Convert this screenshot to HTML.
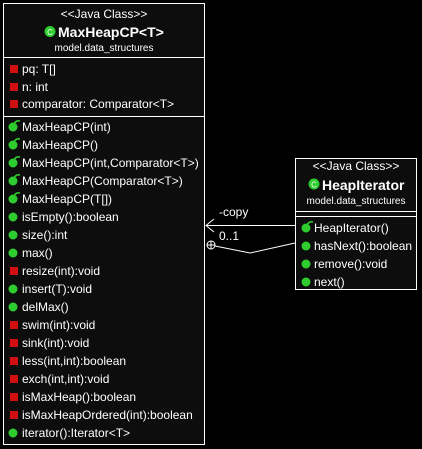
<!DOCTYPE html>
<html><head><style>
html,body{margin:0;padding:0;background:#000;}
svg{display:block;}
text{font-family:"Liberation Sans",Arial,sans-serif;fill:#fff;}
</style></head><body>
<svg width="422" height="449" viewBox="0 0 422 449">
<rect width="422" height="449" fill="#000"/>
<defs>
<g id="red"><rect x="-4" y="-4" width="8" height="8" fill="#d01010"/></g>
<g id="grn"><circle r="4.5" fill="#2ecc2e"/></g>
<g id="ctor"><circle r="4.5" fill="#2ecc2e"/><path d="M1,-3 Q3,-7 7,-6" stroke="#2ecc2e" stroke-width="1.6" fill="none"/></g>
</defs>
<!-- Main class -->
<rect x="3.5" y="3.5" width="201" height="441" fill="#0d0d0d" stroke="#fff" stroke-width="1"/>
<line x1="3.5" y1="57.5" x2="204.5" y2="57.5" stroke="#fff"/>
<line x1="3.5" y1="116.5" x2="204.5" y2="116.5" stroke="#fff"/>
<text x="104" y="18" font-size="12" text-anchor="middle">&lt;&lt;Java Class&gt;&gt;</text>
<circle cx="50" cy="31.5" r="5.5" fill="#2ecc2e"/><text x="50" y="35" font-size="8" text-anchor="middle">C</text>
<text x="58" y="37" font-size="14" font-weight="bold">MaxHeapCP&lt;T&gt;</text>
<text x="104" y="51" font-size="10" text-anchor="middle">model.data_structures</text>
<g font-size="12">
<use href="#red" x="14" y="69"/><text x="22" y="73">pq: T[]</text>
<use href="#red" x="14" y="87"/><text x="22" y="91">n: int</text>
<use href="#red" x="14" y="104"/><text x="22" y="108">comparator: Comparator&lt;T&gt;</text>

<use href="#ctor" x="13" y="127"/><text x="22" y="131">MaxHeapCP(int)</text>
<use href="#ctor" x="13" y="145"/><text x="22" y="149">MaxHeapCP()</text>
<use href="#ctor" x="13" y="163"/><text x="22" y="167">MaxHeapCP(int,Comparator&lt;T&gt;)</text>
<use href="#ctor" x="13" y="181"/><text x="22" y="185">MaxHeapCP(Comparator&lt;T&gt;)</text>
<use href="#ctor" x="13" y="199"/><text x="22" y="203">MaxHeapCP(T[])</text>
<use href="#grn" x="13" y="217"/><text x="22" y="221">isEmpty():boolean</text>
<use href="#grn" x="13" y="235"/><text x="22" y="239">size():int</text>
<use href="#grn" x="13" y="253"/><text x="22" y="257">max()</text>
<use href="#red" x="14" y="271"/><text x="22" y="275">resize(int):void</text>
<use href="#grn" x="13" y="289"/><text x="22" y="293">insert(T):void</text>
<use href="#grn" x="13" y="307"/><text x="22" y="311">delMax()</text>
<use href="#red" x="14" y="325"/><text x="22" y="329">swim(int):void</text>
<use href="#red" x="14" y="343"/><text x="22" y="347">sink(int):void</text>
<use href="#red" x="14" y="361"/><text x="22" y="365">less(int,int):boolean</text>
<use href="#red" x="14" y="379"/><text x="22" y="383">exch(int,int):void</text>
<use href="#red" x="14" y="397"/><text x="22" y="401">isMaxHeap():boolean</text>
<use href="#red" x="14" y="415"/><text x="22" y="419">isMaxHeapOrdered(int):boolean</text>
<use href="#grn" x="13" y="433"/><text x="22" y="437">iterator():Iterator&lt;T&gt;</text>
</g>
<!-- HeapIterator -->
<rect x="295.5" y="158.5" width="121" height="131" fill="#0d0d0d" stroke="#fff"/>
<line x1="295.5" y1="211.5" x2="416.5" y2="211.5" stroke="#fff"/>
<line x1="295.5" y1="216.5" x2="416.5" y2="216.5" stroke="#fff"/>
<text x="356" y="170" font-size="12" text-anchor="middle">&lt;&lt;Java Class&gt;&gt;</text>
<circle cx="314" cy="184" r="5.5" fill="#2ecc2e"/><text x="314" y="187.5" font-size="8" text-anchor="middle">C</text>
<text x="322" y="190" font-size="14" font-weight="bold">HeapIterator</text>
<text x="356" y="204" font-size="10" text-anchor="middle">model.data_structures</text>
<g font-size="12">
<use href="#ctor" x="306" y="228"/><text x="314" y="232">HeapIterator()</text>
<use href="#grn" x="306" y="246"/><text x="314" y="250">hasNext():boolean</text>
<use href="#grn" x="306" y="264"/><text x="314" y="268">remove():void</text>
<use href="#grn" x="306" y="282"/><text x="314" y="286">next()</text>
</g>
<!-- connectors -->
<line x1="206" y1="225.5" x2="295" y2="225.5" stroke="#fff"/>
<polyline points="214,219 206,225.5 214,232" fill="none" stroke="#fff"/>
<text x="219" y="216" font-size="12">-copy</text>
<text x="219" y="240" font-size="12">0..1</text>
<circle cx="211" cy="245" r="4" fill="none" stroke="#fff"/>
<line x1="207" y1="245" x2="215" y2="245" stroke="#fff"/>
<line x1="211" y1="241" x2="211" y2="249" stroke="#fff"/>
<polyline points="215,246 250,253 295,243" fill="none" stroke="#fff"/>
</svg>
</body></html>
